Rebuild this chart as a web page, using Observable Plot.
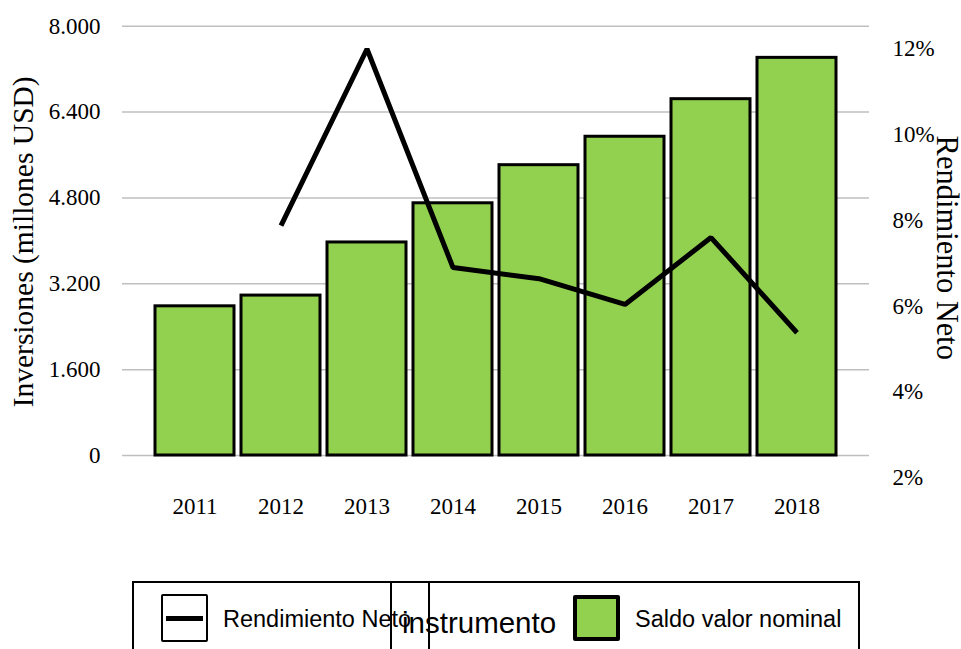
<!DOCTYPE html>
<html><head><meta charset="utf-8">
<script src="https://cdn.jsdelivr.net/npm/d3@7"></script>
<script src="https://cdn.jsdelivr.net/npm/@observablehq/plot@0.6"></script>
<style>
body{margin:0;background:#fff;width:961px;height:649px;overflow:hidden;position:relative;}
#chart{position:absolute;left:0;top:0;}
.lg{position:absolute;box-sizing:border-box;}
.txt{position:absolute;font-family:"Liberation Sans",Arial,sans-serif;white-space:nowrap;color:#000;line-height:1;}
</style></head><body>
<div id="chart"></div>
<div id="legend"></div>
<script>
const years = ["2011","2012","2013","2014","2015","2016","2017","2018"];
const saldo = [2780, 2980, 3970, 4700, 5410, 5940, 6640, 7410];
const rendimiento = [null, 7.88, 12.0, 6.9, 6.64, 6.04, 7.6, 5.38];
const leftTicks = [0, 1600, 3200, 4800, 6400, 8000];
const rightTicks = [2, 4, 6, 8, 10, 12];
const leftTitle = "Inversiones (millones USD)";
const rightTitle = "Rendimiento Neto";
const legendLabels = ["Rendimiento Neto", "instrumento", "Saldo valor nominal"];

// secondary axis (percent) expressed in primary-axis units
const rightDomain = [2, 12];
const rightInLeftUnits = [-411, 7575];
const conv = p => rightInLeftUnits[0] + (p - rightDomain[0]) * (rightInLeftUnits[1] - rightInLeftUnits[0]) / (rightDomain[1] - rightDomain[0]);

const data = years.map((y, i) => ({year: y, saldo: saldo[i], r: rendimiento[i]}));
const lineData = data.filter(d => d.r != null);
const fmt = d3.formatLocale({decimal: ",", thousands: ".", grouping: [3], currency: ["$", ""]}).format(",");

const green = "#92D050";
const chart = Plot.plot({
  width: 961,
  height: 575,
  marginLeft: 122,
  marginRight: 92,
  marginTop: 25.7,
  marginBottom: 120,
  style: {fontFamily: '"Liberation Serif", "Times New Roman", serif', fontSize: "23px", color: "#000", background: "transparent", overflow: "visible"},
  x: {domain: years, range: [122, 869], paddingInner: 0.08, paddingOuter: 0.38, label: null},
  y: {domain: [0, 8000], range: [455, 25.7], label: null},
  marks: [
    Plot.ruleY(leftTicks, {stroke: "#bfbfbf", strokeWidth: 1.5}),
    Plot.barY(data, {x: "year", y: "saldo", fill: green, stroke: "#000", strokeWidth: 3}),
    Plot.line(lineData, {x: "year", y: d => conv(d.r), stroke: "#000", strokeWidth: 5, strokeLinejoin: "miter", strokeLinecap: "butt"}),
    Plot.axisY(leftTicks, {tickSize: 0, tickPadding: 22, tickFormat: fmt, label: null, fontSize: 23}),
    Plot.axisX({tickSize: 0, tickPadding: 42, label: null, fontSize: 23}),
    Plot.text(rightTicks, {y: d => conv(d), text: d => d + "%", frameAnchor: "right", textAnchor: "start", dx: 23, fontSize: 23}),
    Plot.text([leftTitle], {text: d => d, frameAnchor: "left", textAnchor: "middle", dx: -99.3, dy: 1, rotate: -90, fontSize: 29.5}),
    Plot.text([rightTitle], {text: d => d, frameAnchor: "right", textAnchor: "middle", dx: 77, dy: 7, rotate: 90, fontSize: 30.5})
  ]
});
document.getElementById("chart").appendChild(chart);

// legend
const lg = document.getElementById("legend");
function box(l, t, w, h, css) {
  const d = document.createElement("div");
  d.className = "lg";
  d.style.cssText = `left:${l}px;top:${t}px;width:${w}px;height:${h}px;` + css;
  lg.appendChild(d);
  return d;
}
function txt(s, l, t, size) {
  const d = document.createElement("div");
  d.className = "txt";
  d.style.cssText = `left:${l}px;top:${t}px;font-size:${size}px;`;
  d.textContent = s;
  lg.appendChild(d);
}
box(132, 581, 728, 100, "border:2px solid #000;");
box(161, 594, 47, 48, "border:2px solid #000;border-radius:2px;background:#fff;");
box(166, 615.5, 37, 5, "background:#000;");
txt(legendLabels[0], 223, 607.5, 23.5);
box(390, 581, 40, 100, "border:2px solid #000;");
txt(legendLabels[1], 402, 607.5, 29.5);
box(573, 595, 47, 46, `border:4px solid #000;border-radius:2px;background:${green};`);
txt(legendLabels[2], 635, 607.5, 23.5);
</script>
</body></html>
